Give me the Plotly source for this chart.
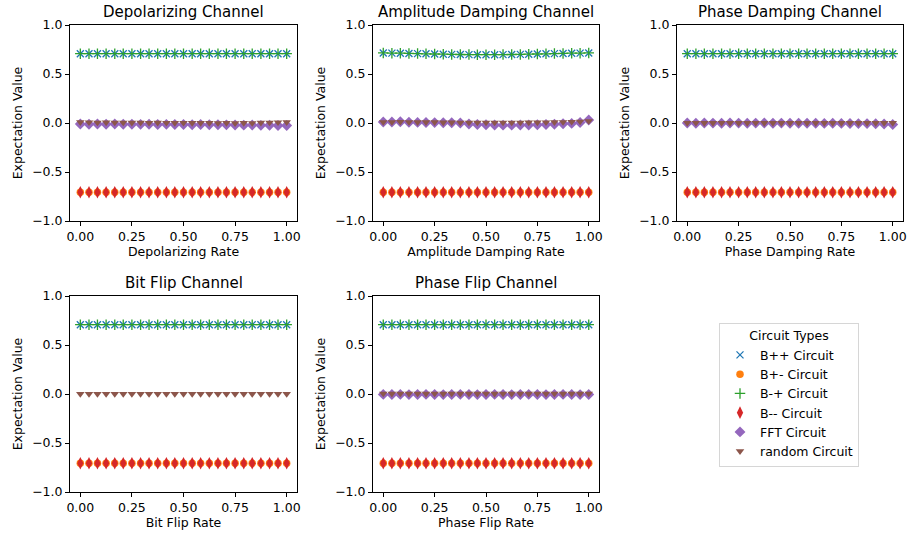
import plotly.graph_objects as go

# ---------------- data ----------------
rates = [0.0, 0.042, 0.083, 0.125, 0.167, 0.208, 0.25, 0.292, 0.333, 0.375, 0.417, 0.458,
         0.5, 0.542, 0.583, 0.625, 0.667, 0.708, 0.75, 0.792, 0.833, 0.875, 0.917, 0.958, 1.0]

plus_const = [0.707, 0.707, 0.707, 0.707, 0.707, 0.707, 0.707, 0.707, 0.707, 0.707, 0.707, 0.707,
              0.707, 0.707, 0.707, 0.707, 0.707, 0.707, 0.707, 0.707, 0.707, 0.707, 0.707, 0.707, 0.707]
minus_const = [-0.707, -0.707, -0.707, -0.707, -0.707, -0.707, -0.707, -0.707, -0.707, -0.707, -0.707, -0.707,
               -0.707, -0.707, -0.707, -0.707, -0.707, -0.707, -0.707, -0.707, -0.707, -0.707, -0.707, -0.707, -0.707]
zero_const = [0.0, 0.0, 0.0, 0.0, 0.0, 0.0, 0.0, 0.0, 0.0, 0.0, 0.0, 0.0,
              0.0, 0.0, 0.0, 0.0, 0.0, 0.0, 0.0, 0.0, 0.0, 0.0, 0.0, 0.0, 0.0]

# Depolarizing
depol_bpp = plus_const
depol_bpm = minus_const
depol_bmp = plus_const
depol_bmm = minus_const
depol_fft = [-0.01, -0.012, -0.01, -0.012, -0.011, -0.013, -0.012, -0.014, -0.013, -0.015, -0.014, -0.016,
             -0.015, -0.017, -0.016, -0.018, -0.017, -0.019, -0.02, -0.022, -0.021, -0.024, -0.023, -0.025, -0.026]
depol_rand = [0.008, 0.007, 0.005, 0.006, 0.004, 0.005, 0.003, 0.004, 0.002, 0.003, 0.002, 0.001,
              0.002, 0.0, 0.001, 0.0, -0.001, 0.0, -0.002, 0.0, -0.001, 0.003, 0.005, 0.007, 0.008]

# Amplitude damping
amp_bpp = [0.715, 0.713, 0.712, 0.71, 0.708, 0.706, 0.704, 0.702, 0.7, 0.699, 0.698, 0.697,
           0.697, 0.697, 0.698, 0.699, 0.7, 0.702, 0.704, 0.706, 0.708, 0.71, 0.712, 0.713, 0.715]
amp_bpm = minus_const
amp_bmp = amp_bpp
amp_bmm = minus_const
amp_fft = [0.01, 0.01, 0.012, 0.008, 0.006, 0.005, 0.004, 0.003, 0.002, 0.0, -0.01, -0.015,
           -0.018, -0.02, -0.022, -0.022, -0.02, -0.02, -0.018, -0.016, -0.012, -0.008, -0.004, 0.005, 0.03]
amp_rand = [0.01, 0.01, 0.012, 0.01, 0.008, 0.008, 0.008, 0.006, 0.006, 0.005, 0.004, 0.004,
            0.004, 0.004, 0.004, 0.005, 0.005, 0.006, 0.006, 0.007, 0.008, 0.01, 0.012, 0.015, 0.02]

# Phase damping
pd_bpp = plus_const
pd_bpm = minus_const
pd_bmp = plus_const
pd_bmm = minus_const
pd_fft = [0.0, -0.002, 0.0, -0.001, -0.002, 0.0, -0.001, -0.002, -0.001, 0.0, -0.002, -0.001,
          -0.002, -0.003, -0.002, -0.003, -0.004, -0.003, -0.004, -0.005, -0.006, -0.006, -0.008, -0.01, -0.015]
pd_rand = [0.0, 0.002, 0.001, 0.0, 0.002, 0.001, 0.0, 0.001, 0.002, 0.0, 0.001, 0.0,
           0.001, 0.002, 0.0, 0.001, 0.0, 0.001, 0.0, 0.001, 0.0, 0.001, 0.0, 0.0, 0.001]

# Bit flip (no FFT points visible)
bf_bpp = plus_const
bf_bpm = minus_const
bf_bmp = plus_const
bf_bmm = minus_const
bf_fft = [None] * 25
bf_rand = zero_const

# Phase flip
pf_bpp = plus_const
pf_bpm = minus_const
pf_bmp = plus_const
pf_bmm = minus_const
pf_fft = [-0.004, -0.005, -0.004, -0.006, -0.005, -0.004, -0.005, -0.006, -0.005, -0.004, -0.005, -0.006,
          -0.005, -0.004, -0.005, -0.006, -0.005, -0.004, -0.005, -0.006, -0.005, -0.004, -0.005, -0.006, -0.005]
pf_rand = [0.004, 0.003, 0.004, 0.003, 0.004, 0.003, 0.004, 0.003, 0.004, 0.003, 0.004, 0.003,
           0.004, 0.003, 0.004, 0.003, 0.004, 0.003, 0.004, 0.003, 0.004, 0.003, 0.004, 0.003, 0.004]

channel_titles = ["Depolarizing Channel", "Amplitude Damping Channel", "Phase Damping Channel",
                  "Bit Flip Channel", "Phase Flip Channel"]
rate_labels = ["Depolarizing Rate", "Amplitude Damping Rate", "Phase Damping Rate",
               "Bit Flip Rate", "Phase Flip Rate"]
series_names = ["B++ Circuit", "B+- Circuit", "B-+ Circuit", "B-- Circuit", "FFT Circuit", "random Circuit"]

x_ticks = [0.0, 0.25, 0.5, 0.75, 1.0]
x_ticktext = ["0.00", "0.25", "0.50", "0.75", "1.00"]
y_ticks = [-1.0, -0.5, 0.0, 0.5, 1.0]
y_ticktext = ["\u22121.0", "\u22120.5", "0.0", "0.5", "1.0"]

channel_data = [
    [depol_bpp, depol_bpm, depol_bmp, depol_bmm, depol_fft, depol_rand],
    [amp_bpp, amp_bpm, amp_bmp, amp_bmm, amp_fft, amp_rand],
    [pd_bpp, pd_bpm, pd_bmp, pd_bmm, pd_fft, pd_rand],
    [bf_bpp, bf_bpm, bf_bmp, bf_bmm, bf_fft, bf_rand],
    [pf_bpp, pf_bpm, pf_bmp, pf_bmm, pf_fft, pf_rand],
]

# ---------------- styling ----------------
W, H = 907, 537
FONT = "DejaVu Sans"
colors = ["#1f77b4", "#ff7f0e", "#2ca02c", "#d62728", "#9467bd", "#8c564b"]
markers = [
    dict(symbol="x-thin", size=7, line=dict(width=1.3, color=colors[0]), color=colors[0]),
    dict(symbol="circle", size=7.5, color=colors[1], line=dict(width=0)),
    dict(symbol="cross-thin", size=7.5, line=dict(width=1.3, color=colors[2]), color=colors[2]),
    dict(symbol="diamond-tall", size=9, color=colors[3], line=dict(width=0)),
    dict(symbol="diamond", size=8.4, color=colors[4], line=dict(width=0)),
    dict(symbol="triangle-down", size=7.5, color=colors[5], line=dict(width=0)),
]


def px_x(p):
    return p / W


def px_y(p):
    return 1 - p / H


# axis boxes in window pixels: (left, right, top, bottom)
boxes = [
    (70, 297, 25, 221),
    (373, 599, 25, 221),
    (677, 903, 25, 221),
    (70, 297, 296, 492),
    (373, 599, 296, 492),
]

fig = go.Figure()
layout = dict(
    width=W, height=H,
    margin=dict(l=0, r=0, t=0, b=0),
    paper_bgcolor="white", plot_bgcolor="white",
    font=dict(family=FONT, size=12.5, color="black"),
    showlegend=True,
    legend=dict(
        x=px_x(719), y=px_y(323), xanchor="left", yanchor="top",
        bordercolor="#d6d6d6", borderwidth=1, bgcolor="white",
        font=dict(family=FONT, size=12.5, color="black"),
        title=dict(text="Circuit Types", side="top center", font=dict(family=FONT, size=12.5)),
        tracegroupgap=0,
    ),
    annotations=[],
)

for i, (ch_series, title, xlabel, box) in enumerate(zip(channel_data, channel_titles, rate_labels, boxes)):
    n = "" if i == 0 else str(i + 1)
    l, r, t, b = box
    layout["xaxis" + n] = dict(
        domain=[px_x(l), px_x(r)], anchor="y" + n,
        range=[-0.05, 1.05], tickvals=x_ticks, ticktext=x_ticktext,
        showline=True, mirror=True, linecolor="black", linewidth=1,
        ticks="outside", ticklen=4, tickwidth=1, tickcolor="black",
        showgrid=False, zeroline=False, automargin=False,
        tickfont=dict(family=FONT, size=12.5, color="black"),
        title=dict(text=xlabel, font=dict(family=FONT, size=12.5, color="black"), standoff=4),
    )
    layout["yaxis" + n] = dict(
        domain=[px_y(b), px_y(t)], anchor="x" + n,
        range=[-1, 1], tickvals=y_ticks, ticktext=y_ticktext,
        showline=True, mirror=True, linecolor="black", linewidth=1,
        ticks="outside", ticklen=4, tickwidth=1, tickcolor="black",
        showgrid=False, zeroline=False, automargin=False,
        tickfont=dict(family=FONT, size=12.5, color="black"),
        title=dict(text="Expectation Value", font=dict(family=FONT, size=12.5, color="black"), standoff=6),
    )
    layout["annotations"].append(dict(
        text=title, xref="paper", yref="paper",
        x=px_x((l + r) / 2), y=px_y(t), xanchor="center", yanchor="bottom",
        yshift=2, showarrow=False, font=dict(family=FONT, size=15, color="black"),
    ))
    for k, (name, ys) in enumerate(zip(series_names, ch_series)):
        fig.add_trace(go.Scatter(
            x=rates, y=ys, mode="markers", name=name,
            legendgroup=name, showlegend=(i == 0),
            marker=markers[k], xaxis="x" + n, yaxis="y" + n, cliponaxis=False,
        ))

fig.update_layout(**layout)
fig.write_html(
    "out.html",
    config={"displayModeBar": False},
    post_script="document.body.style.margin='0';document.body.style.overflow='hidden';",
)
